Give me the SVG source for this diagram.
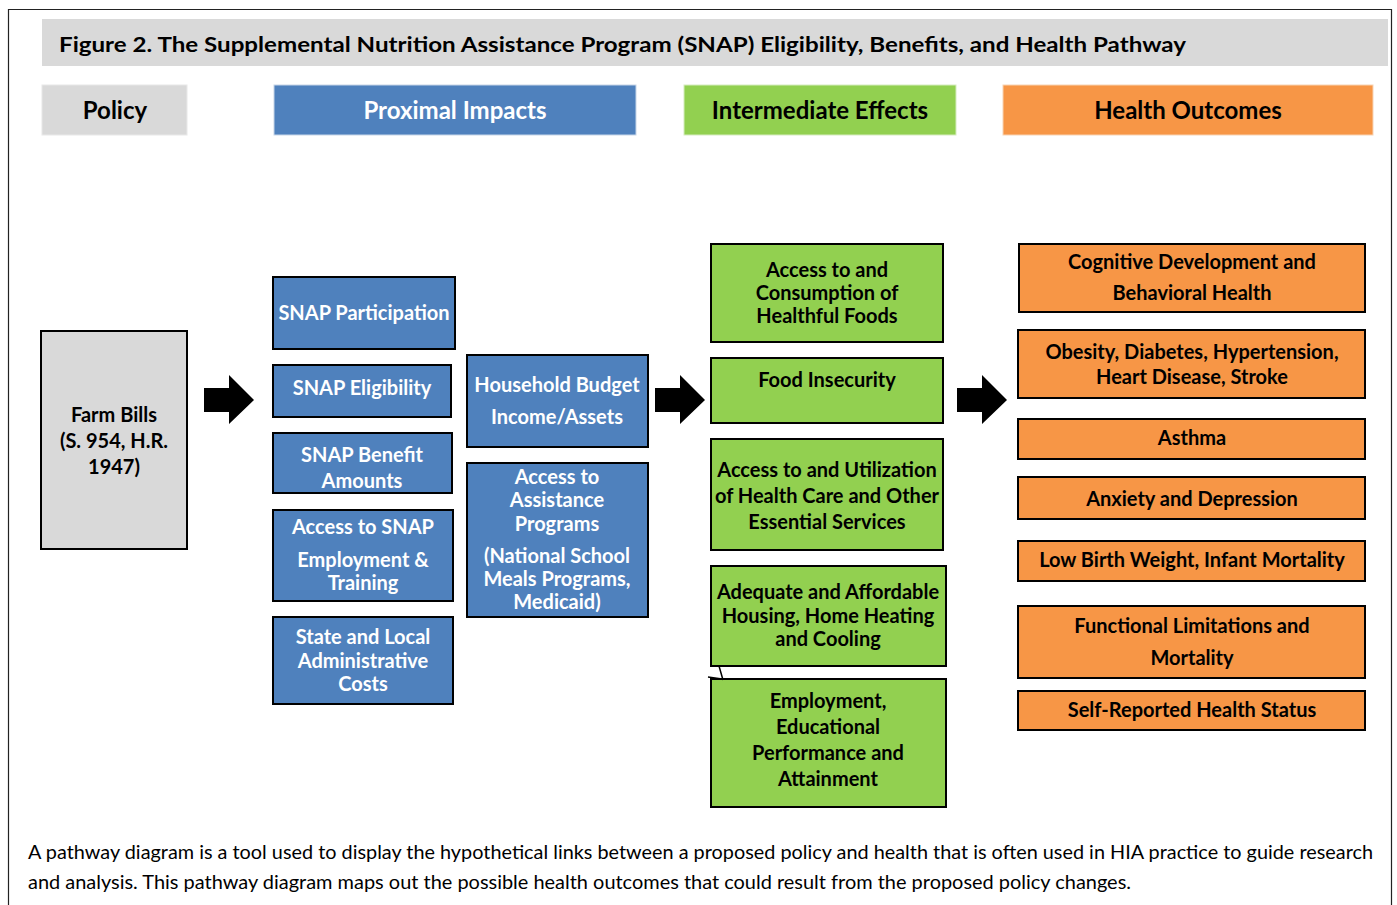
<svg xmlns="http://www.w3.org/2000/svg" width="1397" height="905" viewBox="0 0 1397 905">
<style>
text{font-family:Lato,"Open Sans","Liberation Sans",sans-serif;font-weight:bold;text-anchor:middle;dominant-baseline:central}
.hdr{font-size:24px}
.bx{font-size:20px}
.w{fill:#fff}
.k{fill:#000}
.blue{fill:#4f81bd;stroke:#000;stroke-width:2}
.green{fill:#92d050;stroke:#000;stroke-width:2}
.orange{fill:#f79646;stroke:#000;stroke-width:2}
.grey{fill:#d9d9d9;stroke:#000;stroke-width:2}
.cap{font-weight:normal;font-size:19px;text-anchor:start;dominant-baseline:alphabetic}
</style>
<defs>
<path id="arr" d="M0,-12 H25 V-25 L50,0 L25,24 V12 H0 Z" fill="#000"/>
</defs>
<rect width="1397" height="905" fill="#fff"/>
<path d="M8.5,905 V9.5 H1391.5 V905" fill="none" stroke="#222" stroke-width="1.2"/>
<g id="title">
<rect x="42" y="19" width="1346" height="47" fill="#d9d9d9"/>
<text x="59" y="43" style="font-size:21px;text-anchor:start" textLength="1127" lengthAdjust="spacingAndGlyphs">Figure 2. The Supplemental Nutrition Assistance Program (SNAP) Eligibility, Benefits, and Health Pathway</text>
</g>
<g id="hdr-policy"><rect x="42" y="85" width="145" height="50" fill="#d9d9d9" stroke="#e8e8e8"/><text class="hdr k" x="115" y="109">Policy</text></g>
<g id="hdr-proximal"><rect x="274" y="85" width="362" height="50" fill="#4f81bd" stroke="#c8d6e8"/><text class="hdr w" x="455" y="109">Proximal Impacts</text></g>
<g id="hdr-intermediate"><rect x="684" y="85" width="272" height="50" fill="#92d050" stroke="#d6ecc0"/><text class="hdr k" x="820" y="109">Intermediate Effects</text></g>
<g id="hdr-outcomes"><rect x="1003" y="85" width="370" height="50" fill="#f79646" stroke="#f8d3b3"/><text class="hdr k" x="1188" y="109">Health Outcomes</text></g>

<g id="farm-bills"><rect class="grey" x="41" y="331" width="146" height="218"/>
<text class="bx k" x="114" y="414">Farm Bills</text><text class="bx k" x="114" y="440">(S. 954, H.R.</text><text class="bx k" x="114" y="466">1947)</text></g>

<g id="snap-participation"><rect class="blue" x="273" y="277" width="182" height="72"/><text class="bx w" x="364" y="312">SNAP Participation</text></g>
<g id="snap-eligibility"><rect class="blue" x="273" y="365" width="178" height="52"/><text class="bx w" x="362" y="387">SNAP Eligibility</text></g>
<g id="snap-benefit"><rect class="blue" x="273" y="433" width="179" height="60"/><text class="bx w" x="362" y="454">SNAP Benefit</text><text class="bx w" x="362" y="480">Amounts</text></g>
<g id="snap-et"><rect class="blue" x="273" y="510" width="180" height="91"/><text class="bx w" x="363" y="526">Access to SNAP</text><text class="bx w" x="363" y="559">Employment &amp;</text><text class="bx w" x="363" y="582">Training</text></g>
<g id="admin-costs"><rect class="blue" x="273" y="617" width="180" height="87"/><text class="bx w" x="363" y="636">State and Local</text><text class="bx w" x="363" y="660">Administrative</text><text class="bx w" x="363" y="683">Costs</text></g>
<g id="household-budget"><rect class="blue" x="467" y="355" width="181" height="92"/><text class="bx w" x="557" y="384">Household Budget</text><text class="bx w" x="557" y="416">Income/Assets</text></g>
<g id="assistance-programs"><rect class="blue" x="467" y="463" width="181" height="154"/><text class="bx w" x="557" y="476">Access to</text><text class="bx w" x="557" y="499">Assistance</text><text class="bx w" x="557" y="523">Programs</text><text class="bx w" x="557" y="555">(National School</text><text class="bx w" x="557" y="578">Meals Programs,</text><text class="bx w" x="557" y="601">Medicaid)</text></g>

<g id="healthful-foods"><rect class="green" x="711" y="244" width="232" height="98"/><text class="bx k" x="827" y="269">Access to and</text><text class="bx k" x="827" y="292">Consumption of</text><text class="bx k" x="827" y="315">Healthful Foods</text></g>
<g id="food-insecurity"><rect class="green" x="711" y="358" width="232" height="65"/><text class="bx k" x="827" y="379">Food Insecurity</text></g>
<g id="health-care"><rect class="green" x="711" y="439" width="232" height="111"/><text class="bx k" x="827" y="469">Access to and Utilization</text><text class="bx k" x="827" y="495">of Health Care and Other</text><text class="bx k" x="827" y="521">Essential Services</text></g>
<g id="housing"><rect class="green" x="711" y="566" width="235" height="100"/><text class="bx k" x="828" y="591">Adequate and Affordable</text><text class="bx k" x="828" y="615">Housing, Home Heating</text><text class="bx k" x="828" y="638">and Cooling</text></g>
<g id="employment"><rect class="green" x="711" y="679" width="235" height="128"/><text class="bx k" x="828" y="700">Employment,</text><text class="bx k" x="828" y="726">Educational</text><text class="bx k" x="828" y="752">Performance and</text><text class="bx k" x="828" y="778">Attainment</text></g>

<g id="cognitive"><rect class="orange" x="1019" y="244" width="346" height="68"/><text class="bx k" x="1192" y="261">Cognitive Development and</text><text class="bx k" x="1192" y="292">Behavioral Health</text></g>
<g id="obesity"><rect class="orange" x="1018" y="330" width="347" height="68"/><text class="bx k" x="1192" y="351">Obesity, Diabetes, Hypertension,</text><text class="bx k" x="1192" y="376">Heart Disease, Stroke</text></g>
<g id="asthma"><rect class="orange" x="1018" y="419" width="347" height="40"/><text class="bx k" x="1192" y="437">Asthma</text></g>
<g id="anxiety"><rect class="orange" x="1018" y="477" width="347" height="42"/><text class="bx k" x="1192" y="498">Anxiety and Depression</text></g>
<g id="low-birth"><rect class="orange" x="1018" y="541" width="347" height="40"/><text class="bx k" x="1192" y="559">Low Birth Weight, Infant Mortality</text></g>
<g id="functional"><rect class="orange" x="1018" y="606" width="347" height="72"/><text class="bx k" x="1192" y="625">Functional Limitations and</text><text class="bx k" x="1192" y="657">Mortality</text></g>
<g id="self-reported"><rect class="orange" x="1018" y="691" width="347" height="39"/><text class="bx k" x="1192" y="709">Self-Reported Health Status</text></g>

<g id="connectors">
<use href="#arr" x="204" y="400"/>
<use href="#arr" x="655" y="400"/>
<use href="#arr" x="957" y="400"/>
<path d="M719,666 L723,680 M708,677 L722,679" fill="none" stroke="#000" stroke-width="1.5"/>
</g>

<g id="caption">
<text class="cap" x="28" y="859" textLength="1345" lengthAdjust="spacingAndGlyphs">A pathway diagram is a tool used to display the hypothetical links between a proposed policy and health that is often used in HIA practice to guide research</text>
<text class="cap" x="28" y="889" textLength="1103" lengthAdjust="spacingAndGlyphs">and analysis. This pathway diagram maps out the possible health outcomes that could result from the proposed policy changes.</text>
</g>
</svg>
